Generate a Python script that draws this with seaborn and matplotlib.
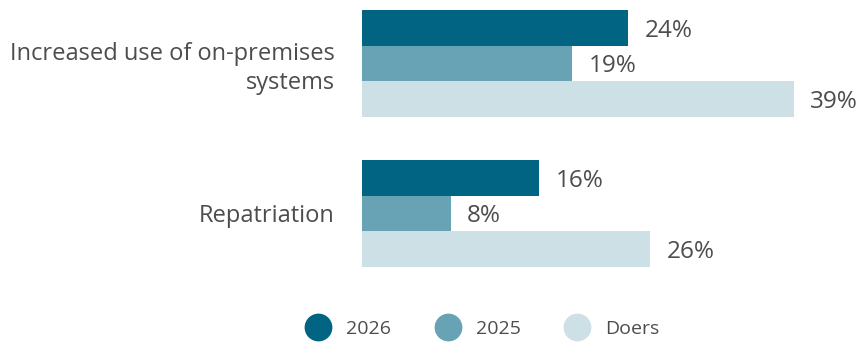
import matplotlib
matplotlib.use("Agg")
import matplotlib.pyplot as plt
from matplotlib.lines import Line2D
import seaborn as sns
import pandas as pd

categories = ["Increased use of on-premises\nsystems", "Repatriation"]
series = ["2026", "2025", "Doers"]
values_2026 = [24, 16]
values_2025 = [19, 8]
values_doers = [39, 26]
colors = ["#006482", "#67a3b5", "#cde0e6"]

rows = []
for cat, a, b, c in zip(categories, values_2026, values_2025, values_doers):
    rows += [(cat, "2026", a), (cat, "2025", b), (cat, "Doers", c)]
df = pd.DataFrame(rows, columns=["category", "series", "value"])

sns.set_theme(style="white")
plt.rcParams["font.family"] = ["Open Sans", "DejaVu Sans"]
text_color = "#4d4d4d"

W, H = 861, 342
fig = plt.figure(figsize=(W / 100, H / 100), dpi=100)
ax_left, ax_right, ax_top, ax_bot = 362, 861, 0, 290
ax = fig.add_axes([ax_left / W, 1 - ax_bot / H, (ax_right - ax_left) / W, (ax_bot - ax_top) / H])

sns.barplot(data=df, y="category", x="value", hue="series", hue_order=series,
            palette=colors, orient="h", width=0.713, ax=ax, legend=False,
            saturation=1, linewidth=0)

px_per_unit = 150.0
ax.set_ylim(1 + (ax_bot - 213.5) / px_per_unit, 0 - (63.5 - ax_top) / px_per_unit)
px_per_pct = 11.07
ax.set_xlim(0, (ax_right - ax_left) / px_per_pct)

for cont in ax.containers:
    texts = ax.bar_label(cont, labels=[f"{v:.0f}%" for v in cont.datavalues], padding=12,
                         fontsize=17.5, color=text_color)
    for t in texts:
        t.set_verticalalignment("center_baseline")

ax.set_xlabel("")
ax.set_ylabel("")
ax.set_xticks([])
ax.tick_params(axis="y", length=0, pad=19.5, labelsize=17, labelcolor=text_color)
for lbl in ax.get_yticklabels():
    lbl.set_horizontalalignment("right")
    lbl.set_multialignment("right")
    lbl.set_linespacing(1.25)
for s in ax.spines.values():
    s.set_visible(False)

handles = [Line2D([0], [0], marker="o", linestyle="", markersize=20,
                  markerfacecolor=c, markeredgewidth=0, label=s)
           for s, c in zip(series, colors)]
fig.legend(handles=handles, loc="center", bbox_to_anchor=(483 / W, 1 - 329 / H),
           ncol=3, frameon=False, fontsize=14, labelcolor=text_color,
           handletextpad=0.85, columnspacing=2.3, handlelength=1.2)

fig.savefig("out.png", dpi=100)
